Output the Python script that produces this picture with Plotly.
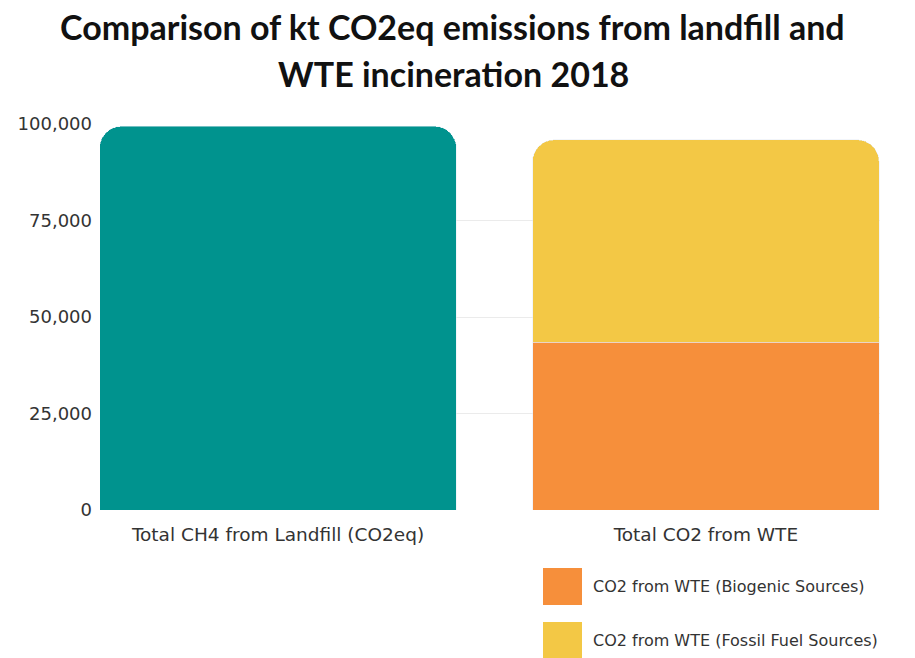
import plotly.graph_objects as go

categories = ["Total CH4 from Landfill (CO2eq)", "Total CO2 from WTE"]
landfill_ch4 = [99400, None]
wte_biogenic = [None, 43500]
wte_fossil = [None, 52400]
series_names = ["Total CH4 from Landfill (CO2eq)", "CO2 from WTE (Biogenic Sources)", "CO2 from WTE (Fossil Fuel Sources)"]
colors = ["#00938E", "#F68F3B", "#F3C845"]
tick_vals = [0, 25000, 50000, 75000, 100000]
tick_text = ["0", "25,000", "50,000", "75,000", "100,000"]

fig = go.Figure()
fig.add_trace(go.Bar(x=categories, y=landfill_ch4, name=series_names[0], marker_color=colors[0], width=0.834, showlegend=False))
fig.add_trace(go.Bar(x=categories, y=wte_biogenic, name=series_names[1], marker_color=colors[1], width=0.81, showlegend=False))
fig.add_trace(go.Bar(x=categories, y=wte_fossil, name=series_names[2], marker_color=colors[2], width=0.81, showlegend=False))

font_text = "'DejaVu Sans', sans-serif"
font_title = "Lato, Roboto, sans-serif"

fig.update_layout(
    width=915, height=658,
    margin=dict(l=100, r=35, t=124, b=148),
    paper_bgcolor="white", plot_bgcolor="white",
    barmode="stack",
    barcornerradius=22,
    font=dict(family=font_text, color="#333"),
    xaxis=dict(range=[-0.416, 1.407], showgrid=False, zeroline=False, showline=False,
               tickfont=dict(size=18.5, color="#333", family=font_text), ticks="", ticklabelstandoff=11),
    yaxis=dict(range=[0, 100000], tickvals=tick_vals, ticktext=tick_text, showgrid=True,
               gridcolor="#EBEBEB", gridwidth=1, zeroline=False, showline=False,
               tickfont=dict(size=18, color="#333", family=font_text), ticklabelstandoff=7),
    showlegend=False,
)

# Title (two lines)
fig.add_annotation(text="<b>Comparison of kt CO2eq emissions from landfill and</b>", x=(452 - 100) / 780, xref="paper",
                   y=1 + (124 - 26) / 386, yref="paper", yanchor="middle", showarrow=False,
                   font=dict(size=34, color="#111", family=font_title))
fig.add_annotation(text="<b>WTE incineration 2018</b>", x=(453 - 100) / 780, xref="paper",
                   y=1 + (124 - 73) / 386, yref="paper", yanchor="middle", showarrow=False,
                   font=dict(size=34, color="#111", family=font_title))

# Manual legend
legend_items = [(series_names[1], colors[1], 568, 605), (series_names[2], colors[2], 622, 658)]
for name, col, top, bot in legend_items:
    fig.add_shape(type="rect", xref="paper", yref="paper",
                  x0=(543 - 100) / 780, x1=(582 - 100) / 780,
                  y0=1 - (bot - 124) / 386, y1=1 - (top - 124) / 386,
                  fillcolor=col, line_width=0)
    fig.add_annotation(text=name, xref="paper", yref="paper", x=(591 - 100) / 780,
                       y=1 - ((top + bot) / 2 - 124) / 386, xanchor="left", yanchor="middle",
                       showarrow=False, font=dict(size=16, color="#333", family=font_text))

fig.write_html("out.html")
